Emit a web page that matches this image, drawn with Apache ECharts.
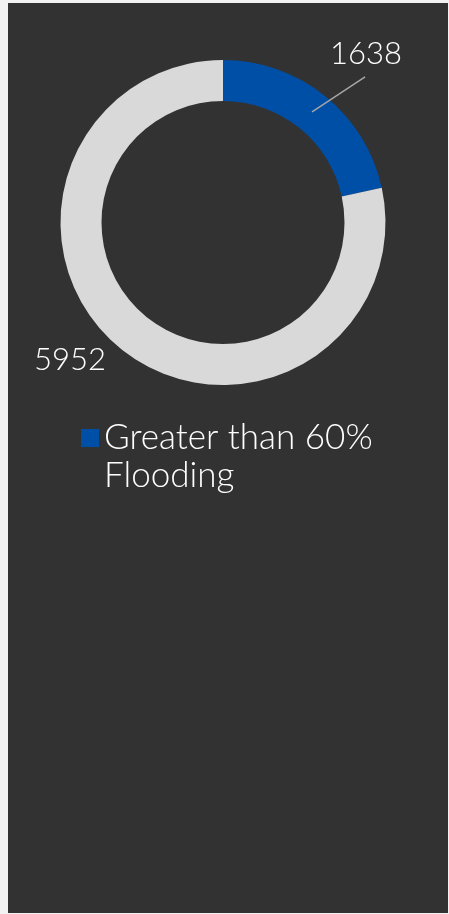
<!DOCTYPE html>
<html>
<head>
<meta charset="utf-8">
<script src="https://cdn.jsdelivr.net/npm/echarts@6/dist/echarts.min.js"></script>
<style>
  html, body { margin: 0; padding: 0; background: #f2f2f2; width: 449px; height: 914px; overflow: hidden; }
  #chart { position: absolute; left: 8px; top: 3px; width: 440px; height: 910px; background: #323232; }
</style>
</head>
<body>
<div id="chart"></div>
<script>
const categories = ['Greater than 60% Flooding', 'Other'];
const values = [1638, 5952];
const legendItems = ['Greater than 60% Flooding'];
const colors = ['#004fa6', '#d9d9d9'];

const CX = 215, CY = 219.5, R0 = 121.5, R1 = 162.5;
const total = values.reduce((a, b) => a + b, 0);
function midAngle(i) {
  let s = 0;
  for (let k = 0; k < i; k++) s += values[k];
  return (s + values[i] / 2) / total * Math.PI * 2; // clockwise from top
}
function ringPoint(i, r) {
  const a = midAngle(i);
  return [CX + r * Math.sin(a), CY - r * Math.cos(a)];
}

const chart = echarts.init(document.getElementById('chart'));
const fontFamily = 'Lato, "Open Sans", sans-serif';
const baseSeries = {
  type: 'pie',
  center: [CX, CY],
  radius: [R0, R1],
  startAngle: 90,
  clockwise: true,
  silent: true
};
chart.setOption({
  backgroundColor: '#323232',
  animation: false,
  legend: {
    data: legendItems,
    left: 73,
    top: 378,
    padding: 0,
    itemWidth: 18,
    itemHeight: 18,
    itemGap: 8,
    icon: 'rect',
    formatter: function (name) { return '\n' + name; },
    textStyle: {
      color: '#ffffff',
      fontSize: 35,
      fontWeight: 300,
      fontFamily: fontFamily,
      width: 320,
      overflow: 'break',
      lineHeight: 38
    }
  },
  series: [
    Object.assign({}, baseSeries, {
      z: 2,
      data: categories.map((c, i) => ({ name: c, value: values[i], itemStyle: { color: colors[i] } })),
      label: { show: false },
      labelLine: { show: false }
    }),
    Object.assign({}, baseSeries, {
      z: 3,
      legendHoverLink: false,
      data: categories.map((c, i) => ({ name: c, value: values[i], itemStyle: { color: 'rgba(0,0,0,0)' } })),
      label: {
        show: true,
        position: 'outside',
        formatter: '{c}',
        color: '#ffffff',
        fontSize: 31,
        fontWeight: 300,
        fontFamily: fontFamily,
        overflow: 'none'
      },
      labelLine: {
        show: true,
        lineStyle: { color: '#a6a6a6', width: 1.5 }
      },
      labelLayout: function (params) {
        if (params.dataIndex === 0) {
          const p = ringPoint(0, (R0 + R1) / 2);
          const e = [p[0] + 53, p[1] - 35];
          return {
            x: e[0] + 1, y: e[1] - 23, align: 'center', verticalAlign: 'middle',
            labelLinePoints: [p, e, e]
          };
        } else {
          const p = ringPoint(1, R1);
          return {
            x: p[0] - 51, y: p[1] + 11, align: 'center', verticalAlign: 'middle',
            labelLinePoints: [p, p, p]
          };
        }
      }
    })
  ]
});
</script>
</body>
</html>
